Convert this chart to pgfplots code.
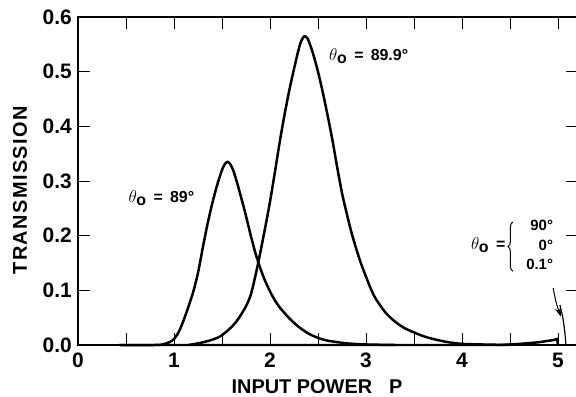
\documentclass[border=0pt]{standalone}
\usepackage{pgfplots}
\pgfplotsset{compat=1.18}
\usetikzlibrary{arrows.meta,decorations.pathreplacing}
\usepackage{fontspec}
\setmainfont{Liberation Sans}
\begin{document}
\begin{tikzpicture}
\begin{axis}[
  name=ax,
  scale only axis, width=500bp, height=328bp,
  xmin=0, xmax=5.2083, ymin=0, ymax=0.6,
  clip=false,
  axis line style={line width=1.3pt},
  xtick={0,1,2,3,4,5}, xticklabels={0,1,2,3,4,5},
  minor xtick={0.5,1.5,2.5,3.5,4.5},
  ytick={0,0.1,0.2,0.3,0.4,0.5,0.6},
  yticklabels={0.0,0.1,0.2,0.3,0.4,0.5,0.6},
  tick align=inside, major tick length=12bp, minor tick length=12bp,
  every tick/.style={line width=1pt, black},
  tick label style={font=\bfseries\fontsize{21}{21}\selectfont},
  yticklabel style={inner sep=0pt, xshift=-6bp},
  xticklabel style={inner sep=0pt, yshift=-8bp},
]
% theta_o = 89 deg
\addplot[line width=2.5pt, smooth, tension=0.45] coordinates {
(0.43,0) (0.8,0.0) (0.88,0.001) (0.95,0.005) (1.0,0.011) (1.05,0.024) (1.1,0.045)
(1.15,0.07) (1.2,0.097) (1.25,0.132) (1.3,0.178) (1.35,0.222) (1.4,0.26)
(1.45,0.293) (1.5,0.32) (1.53,0.331) (1.56,0.335) (1.59,0.330) (1.62,0.318)
(1.66,0.295) (1.71,0.263) (1.75,0.236) (1.8,0.200) (1.85,0.167) (1.9,0.140)
(1.95,0.117) (2.0,0.098) (2.05,0.082) (2.1,0.069) (2.2,0.049) (2.3,0.033)
(2.4,0.021) (2.5,0.013) (2.6,0.008) (2.8,0.003) (3.0,0.001) (3.3,0)};
% theta_o = 89.9 deg
\addplot[line width=2.5pt, smooth, tension=0.45] coordinates {
(1.15,0) (1.25,0.003) (1.35,0.007) (1.45,0.013) (1.5,0.018) (1.55,0.025)
(1.6,0.033) (1.65,0.043) (1.7,0.056) (1.75,0.071) (1.8,0.092) (1.85,0.128)
(1.9,0.170) (1.95,0.215) (2.0,0.262) (2.05,0.315) (2.1,0.37) (2.15,0.42)
(2.2,0.465) (2.25,0.505) (2.3,0.542) (2.33,0.558) (2.36,0.565) (2.39,0.561)
(2.42,0.548) (2.45,0.532) (2.5,0.5) (2.55,0.462) (2.6,0.42) (2.65,0.375)
(2.7,0.325) (2.75,0.278) (2.8,0.24) (2.85,0.205) (2.9,0.175) (2.95,0.148)
(3.0,0.125) (3.05,0.103) (3.1,0.085) (3.2,0.06) (3.3,0.043) (3.4,0.031)
(3.5,0.023) (3.6,0.016) (3.7,0.011) (3.8,0.007) (3.9,0.004) (4.0,0.002)
(4.2,0.001) (4.5,0)};
% theta_o = 90, 0, 0.1 deg
\addplot[line width=2.5pt] coordinates {
(0.43,0) (4.4,0) (4.6,0.002) (4.8,0.005) (4.95,0.009) (4.99,0.011) (5.0,0)};
\addplot[line width=1.2pt, smooth] coordinates {
(5.02,0.073) (5.05,0.05) (5.07,0.025) (5.083,0)};
\draw[-{Stealth[length=9bp,width=6bp]}, line width=1pt]
  (axis cs:4.95,0.104) to[bend right=5] (axis cs:5.03,0.052);
\node[anchor=west, font=\bfseries\fontsize{16}{16}\selectfont]
  at (axis cs:2.58,0.528) {$\theta_{\textbf{o}}$\, =\, 89.9°};
\node[anchor=west, font=\bfseries\fontsize{16}{16}\selectfont]
  at (axis cs:0.49,0.269) {$\theta_{\textbf{o}}$\, =\, 89°};
\node[anchor=east, font=\bfseries\fontsize{16}{16}\selectfont, inner sep=0pt]
  at (axis cs:4.455,0.183) {$\theta_{\textbf{o}}$\, =};
\draw[line width=1pt, decorate, decoration={brace, amplitude=5bp}]
  (axis cs:4.53,0.135) -- (axis cs:4.53,0.225);
\node[anchor=east, font=\bfseries\fontsize{15}{20}\selectfont, inner sep=0pt]
  at (axis cs:4.95,0.181) {\begin{tabular}{@{}r@{}}90°\\0°\\0.1°\end{tabular}};
\node[anchor=base, font=\bfseries\fontsize{20}{20}\selectfont]
  at (axis cs:2.49,0) [yshift=-48bp] {INPUT POWER\hspace{17bp}P};
\node[anchor=base, rotate=90, font=\bfseries\fontsize{20}{20}\selectfont\addfontfeatures{LetterSpace=7}]
  at ([xshift=-51bp]axis cs:0,0.283) {TRANSMISSION};
\end{axis}
\pgfresetboundingbox
\path[use as bounding box] ([shift={(-78bp,-52bp)}]ax.south west) rectangle ([shift={(498bp,345bp)}]ax.south west);
\end{tikzpicture}
\end{document}
